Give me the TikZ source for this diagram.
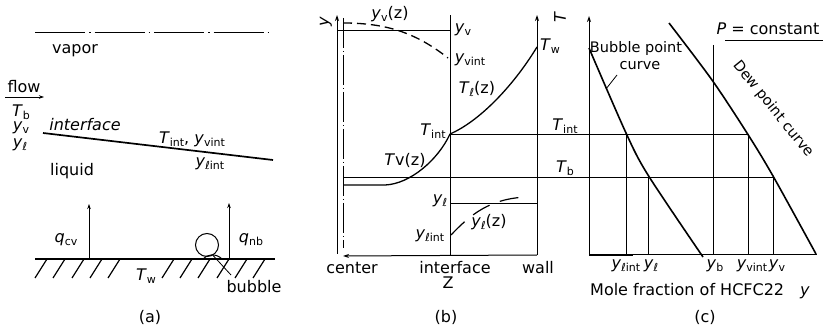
\documentclass[tikz,border=0pt]{standalone}
\usepackage{fontspec}
\setmainfont{DejaVu Sans}
\usetikzlibrary{arrows.meta}
\tikzset{
  thinln/.style={line width=0.8pt},
  thickln/.style={line width=1.7pt},
  lbl/.style={font=\fontsize{16}{18}\selectfont, inner sep=0pt},
  sml/.style={font=\fontsize{14.5}{16}\selectfont, inner sep=0pt},
  axisarrow/.style={line width=1pt, -{Stealth[length=6pt,width=4pt]}},
  hatch/.style={line width=1.2pt},
}
\newcommand\iv[1]{\textit{#1}}
\newcommand\subs[1]{\raisebox{-0.35ex}{\fontsize{11}{12}\selectfont #1}}
\begin{document}
\begin{tikzpicture}[x=1pt,y=-1pt]
\useasboundingbox (0,0) rectangle (825,331);

% ---------------- panel (a) ----------------
\coordinate (dd1) at (35,32); \coordinate (dd2) at (270,32);
\draw[line width=0.9pt, dash pattern=on 50pt off 4pt on 1.5pt off 4pt] (dd1) -- (dd2);
\node[lbl] (vapor) at (75,51) {vapor};
\node[lbl] (flow) at (24,87) {flow};
\coordinate (fs) at (5,97); \coordinate (fe) at (44,97);
\draw[thinln, -{Stealth[length=5pt,width=3.5pt]}] (fs) -- (fe);
\node[lbl] (aTb) at (21,112) {\iv{T}\subs{b}};
\node[lbl] (ayv) at (21,128) {\iv{y}\subs{v}};
\node[lbl] (ayl) at (20,145) {\iv{y}\subs{\iv{ℓ}}};
\coordinate (if1) at (43,133); \coordinate (if2) at (273,160);
\draw[thickln] (if1) -- (if2);
\node[lbl] (aif) at (85,125) {\iv{interface}};
\node[lbl] (aTint) at (192,139) {\iv{T}\subs{int}, \iv{y}\subs{vint}};
\node[lbl] (aylint) at (210,164) {\iv{y}\subs{\iv{ℓ}int}};
\node[lbl] (liquid) at (72,171) {liquid};
\coordinate (w1) at (35,259); \coordinate (w2) at (275,259);
\draw[thickln] (w1) -- (w2);
\foreach \x in {35,53,72,90,108,162,180,198,217,235,253}
  \draw[hatch] (\x,278) -- ++(12,-19);
\node[lbl] (aTw) at (146,276) {\iv{T}\subs{w}};
\coordinate (qcvb) at (89,259); \coordinate (qcvt) at (89,204);
\draw[thinln, -{Stealth[length=5pt,width=3.5pt]}] (qcvb) -- (qcvt);
\node[lbl] (qcv) at (66,240) {\iv{q}\subs{cv}};
\node[circle, draw, line width=1pt, minimum size=23pt, inner sep=0pt] (bub) at (207,245) {};
\draw[line width=1pt] (203,259) .. controls (207,254) and (216,253) .. (222,259);
\coordinate (qnbb) at (229,259); \coordinate (qnbt) at (229,203);
\draw[thinln, -{Stealth[length=5pt,width=3.5pt]}] (qnbb) -- (qnbt);
\node[lbl] (qnb) at (251,240) {\iv{q}\subs{nb}};
\node[lbl] (bubble) at (254,287) {bubble};
\coordinate (bl) at (231,275);
\draw[thinln] (bub.-60) -- (bl);
\node[lbl] (la) at (150,317) {(a)};

% ---------------- panel (b) ----------------
\coordinate (bL0) at (337,254); \coordinate (bL1) at (337,15);
\draw[axisarrow] (bL0) -- (bL1);
\coordinate (cl0) at (343,18); \coordinate (cl1) at (343,248);
\draw[thinln, dash pattern=on 30pt off 3pt on 1pt off 3pt] (cl0) -- (cl1);
\node[lbl, rotate=90] (bylab) at (326,22) {\iv{y}};
\coordinate (wallb) at (537,255); \coordinate (wallt) at (537,15);
\coordinate (cen) at (343,256);
\draw[axisarrow] (wallb) -- (cen);
\draw[axisarrow] (wallb) -- (wallt);
\coordinate (ifb) at (450,255); \coordinate (ift) at (450,15);
\draw[thinln] (ifb) -- (ift);
% y_v
\coordinate (yv0) at (337,30); \coordinate (yv1) at (450,30);
\draw[thinln] (yv0) -- (yv1);
\node[lbl] (byv) at (463,30) {\iv{y}\subs{v}};
\coordinate (yvz0) at (343,23); \coordinate (yvz1) at (448,58);
\draw[line width=1.3pt, dash pattern=on 9pt off 5pt] (yvz0) .. controls (385,23) and (415,32) .. (yvz1);
\node[lbl] (byvz) at (390,14) {\iv{y}\subs{v}(z)};
\node[lbl] (byvint) at (470,60) {\iv{y}\subs{vint}};
% T_l(z)
\coordinate (Tint) at (450,134); \coordinate (Tw) at (537,47);
\draw[line width=1.3pt] (Tint) .. controls (478,122) and (512,88) .. (Tw);
\node[lbl] (bTlz) at (477,89) {\iv{T}\subs{\iv{ℓ}}(z)};
\node[lbl] (bTw) at (550,46) {\iv{T}\subs{w}};
\coordinate (TintE) at (747,134);
\draw[thinln] (Tint) -- (TintE);
\node[lbl] (bTint) at (433,131) {\iv{T}\subs{int}};
% T_v(z)
\coordinate (Tv0) at (343,185); \coordinate (Tv1) at (385,185);
\draw[line width=1.3pt] (Tv0) -- (Tv1) .. controls (410,184) and (438,160) .. (Tint);
\node[lbl] (bTvz) at (405,160) {\iv{T}v(z)};
\coordinate (Tb0) at (343,177); \coordinate (TbE) at (773,177);
\draw[thinln] (Tb0) -- (TbE);
% y_l
\coordinate (yl0) at (450,203); \coordinate (yl1) at (537,203);
\draw[thinln] (yl0) -- (yl1);
\node[lbl] (byl) at (440,201) {\iv{y}\subs{\iv{ℓ}}};
\coordinate (ylz0) at (451,235); \coordinate (ylz1) at (528,197);
\draw[line width=1.2pt, dash pattern=on 19pt off 11pt] (ylz0) .. controls (470,215) and (490,198) .. (ylz1);
\node[lbl] (bylz) at (489,222) {\iv{y}\subs{\iv{ℓ}}(z)};
\node[lbl] (bylint) at (430,236) {\iv{y}\subs{\iv{ℓ}int}};
\node[lbl] (center) at (352,268) {center};
\node[lbl] (interface) at (455,268) {interface};
\node[lbl] (wall) at (538,268) {wall};
\node[lbl] (Z) at (448,283) {Z};
\node[lbl] (lb) at (446,317) {(b)};

% ---------------- panel (c) ----------------
\coordinate (cA0) at (589,255); \coordinate (cA1) at (589,16);
\draw[axisarrow] (cA0) -- (cA1);
\node[lbl, rotate=90] (cT) at (560,17) {\iv{T}};
\coordinate (cX1) at (817,255); \coordinate (cXt) at (633,255);
\draw[line width=1pt] (cA0) -- (cX1);
\draw[line width=2pt] (cA0) -- (cXt);
\draw[line width=1.6pt] plot[smooth] coordinates {(589,48) (626,133) (648,175) (703,257)};
\draw[line width=1.6pt] plot[smooth] coordinates {(669,23) (712,80) (747,133) (773,176) (816,254)};
\coordinate (v1t) at (626,134); \coordinate (v1b) at (626,255);
\coordinate (v2t) at (648,177); \coordinate (v2b) at (648,255);
\coordinate (v3t) at (713,45);  \coordinate (v3b) at (713,255);
\coordinate (v4t) at (748,134); \coordinate (v4b) at (748,255);
\coordinate (v5t) at (773,177); \coordinate (v5b) at (773,255);
\draw[thinln] (v1t) -- (v1b);
\draw[thinln] (v2t) -- (v2b);
\draw[thinln] (v3t) -- (v3b);
\draw[thinln] (v4t) -- (v4b);
\draw[thinln] (v5t) -- (v5b);
\node[sml] (bpc1) at (636,49) {Bubble point};
\node[sml] (bpc2) at (640,66) {curve};
\coordinate (bpl0) at (617,75); \coordinate (bpl1) at (606,89);
\draw[thinln] (bpl0) -- (bpl1);
\node[sml, rotate=-51] (dew) at (773,109) {Dew point curve};
\node[font=\fontsize{16}{18}\selectfont, inner sep=0pt] (Pc) at (768,29) {\iv{P} = constant};
\coordinate (u0) at (725,40); \coordinate (u1) at (823,40);
\draw[thinln] (u0) -- (u1);
\node[lbl] (cTint) at (565,126) {\iv{T}\subs{int}};
\node[lbl] (cTb) at (565,168) {\iv{T}\subs{b}};
\node[lbl] (cylint) at (626,266) {\iv{y}\subs{\iv{ℓ}int}};
\node[lbl] (cyl) at (651,266) {\iv{y}\subs{\iv{ℓ}}};
\node[lbl] (cyb) at (715,266) {\iv{y}\subs{b}};
\node[lbl] (cyvint) at (752,266) {\iv{y}\subs{vint}};
\node[lbl] (cyv) at (777,266) {\iv{y}\subs{v}};
\node[lbl] (mole) at (700,291) {Mole fraction of HCFC22\quad\iv{y}};
\node[lbl] (lc) at (705,317) {(c)};
\end{tikzpicture}
\end{document}
